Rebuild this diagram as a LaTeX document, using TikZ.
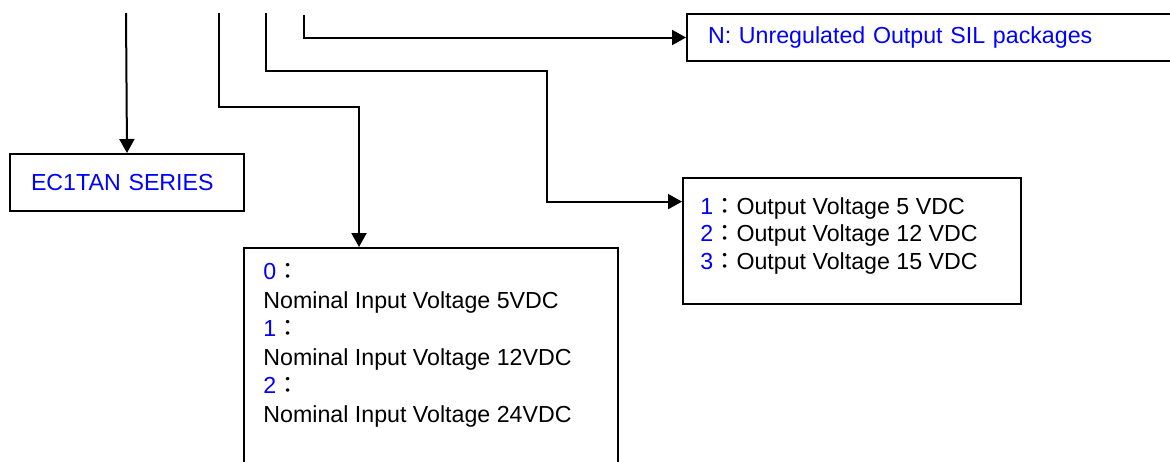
\documentclass[tikz,border=0pt]{standalone}
\usepackage{fontspec}
\setmainfont{Liberation Sans}
\newfontfamily\cjkfont{Noto Sans CJK JP}
\usetikzlibrary{arrows.meta,positioning}
\definecolor{ecBlue}{HTML}{0000FF}
\newcommand{\ccol}{{\cjkfont ：}}

\begin{document}
\begin{tikzpicture}[x=1pt,y=-1pt,font=\fontsize{11.6}{14.25}\selectfont,
  frame/.style={draw,line width=1pt,inner sep=0pt,anchor=north west},
  label/.style={frame,inner xsep=10.5pt,align=left,text=ecBlue},
  body/.style={inner sep=0pt,anchor=north west,align=left},
  conn/.style={line width=1pt,-{Triangle[length=7pt,width=7.5pt]}}]
\useasboundingbox (0,0) rectangle (585,230.5);
% boxes
\node[label,minimum width=117pt,minimum height=28.5pt,text width=96pt] (series) at (4.5,76.5) {EC1TAN SERIES};
\node[label,minimum width=250pt,minimum height=23.5pt,text width=229pt] (nbox) at (343,6.5) {N: Unregulated Output SIL packages};
\node[frame,minimum width=187pt,minimum height=115pt] (inbox) at (121.5,123.5) {};
\node[frame,minimum width=169pt,minimum height=63pt] (outbox) at (341,88.5) {};
% box texts
\node[body,below right=8pt and 10pt of inbox.north west] (intext) {%
{\color{ecBlue}0}\ccol\\
Nominal Input Voltage 5VDC\\
{\color{ecBlue}1}\ccol\\
Nominal Input Voltage 12VDC\\
{\color{ecBlue}2}\ccol\\
Nominal Input Voltage 24VDC};
\node[body,font=\fontsize{11.6}{13.75}\selectfont,below right=10pt and 9pt of outbox.north west] (outtext) {%
{\color{ecBlue}1}\ccol Output Voltage 5 VDC\\
{\color{ecBlue}2}\ccol Output Voltage 12 VDC\\
{\color{ecBlue}3}\ccol Output Voltage 15 VDC};
% connectors
\coordinate (tSeries) at (63,6.5);
\coordinate (tIn) at (109.5,6.5);
\coordinate (kIn) at (179.5,53.5);
\coordinate (tOut) at (133,6.5);
\coordinate (kOut) at (273.5,35.3);
\coordinate (aOut) at (273.5,100.8);
\coordinate (tN) at (152,7.5);
\draw[conn] (tSeries) -- (series.north);
\draw[conn] (tIn) |- (kIn) -- (kIn |- inbox.north);
\draw[conn] (tOut) |- (kOut) -- (aOut) -- (aOut -| outbox.west);
\draw[conn] (tN) |- (nbox.west);
\end{tikzpicture}
\end{document}
